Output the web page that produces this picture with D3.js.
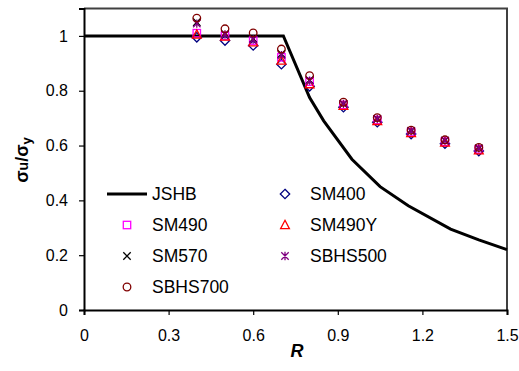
<!DOCTYPE html>
<html>
<head>
<meta charset="utf-8">
<script src="https://cdn.jsdelivr.net/npm/d3@7"></script>
<style>
  body { margin: 0; background: #fff; }
  text { font-family: Arial, "Liberation Sans", sans-serif; }
</style>
</head>
<body>
<div id="chart"></div>
<script>
// JSHB design curve
const curveR = [0, 0.707, 0.8, 0.85, 0.95, 1.05, 1.15, 1.3, 1.4, 1.5]
const curveVal = [1, 1, 0.775, 0.69, 0.55, 0.45, 0.38, 0.295, 0.256, 0.22]

// test points
const testR = [0.4, 0.5, 0.6, 0.7, 0.8, 0.92, 1.04, 1.16, 1.28, 1.4]
const sm400 = [0.995, 0.983, 0.965, 0.897, 0.816, 0.74, 0.685, 0.642, 0.607, 0.58]
const sm490 = [1.01, 1.0, 0.983, 0.922, 0.833, 0.748, 0.693, 0.649, 0.614, 0.586]
const sm490y = [1.005, 0.998, 0.977, 0.91, 0.824, 0.745, 0.69, 0.646, 0.611, 0.583]
const sm570 = [1.05, 1.007, 0.99, 0.934, 0.839, 0.752, 0.697, 0.653, 0.618, 0.59]
const sbhs500 = [1.045, 1.005, 0.987, 0.93, 0.837, 0.752, 0.697, 0.653, 0.618, 0.59]
const sbhs700 = [1.065, 1.026, 1.011, 0.952, 0.855, 0.758, 0.702, 0.656, 0.621, 0.593]

const xTicks = [0, 0.3, 0.6, 0.9, 1.2, 1.5]
const yTicks = [0, 0.2, 0.4, 0.6, 0.8, 1]

const series = [
  {name: "SM400", vals: sm400, shape: "diamond", color: "#000080"},
  {name: "SM490", vals: sm490, shape: "square", color: "#ff00ff"},
  {name: "SM490Y", vals: sm490y, shape: "triangle", color: "#ff0000"},
  {name: "SM570", vals: sm570, shape: "x", color: "#000000"},
  {name: "SBHS500", vals: sbhs500, shape: "star", color: "#800080"},
  {name: "SBHS700", vals: sbhs700, shape: "circle", color: "#800000"}
]

const width = 519, height = 371
const plotL = 84, plotR = 507, plotT = 8.5, plotB = 310

const svg = d3.select("#chart").append("svg")
  .attr("width", width)
  .attr("height", height)

svg.append("rect").attr("width", width).attr("height", height).attr("fill", "#fff")

const x = d3.scaleLinear().domain([0, 1.5]).range([plotL, plotR])
const y = d3.scaleLinear().domain([0, 1.1]).range([plotB, plotT])

// plot border (top / right)
svg.append("path")
  .attr("d", `M${plotL},${plotT}H${plotR}V${plotB}`)
  .attr("fill", "none")
  .attr("stroke", "#404040")
  .attr("stroke-width", 2)

const xAxis = d3.axisBottom(x).tickValues(xTicks).tickSize(5).tickPadding(15)
  .tickFormat(d => d3.format("")(d))
const yAxis = d3.axisLeft(y).tickValues(yTicks).tickSize(5).tickPadding(11)
  .tickFormat(d => d3.format("")(d))

const gx = svg.append("g").attr("transform", `translate(0,${plotB})`).call(xAxis)
const gy = svg.append("g").attr("transform", `translate(${plotL},0)`).call(yAxis)

;[gx, gy].forEach(g => {
  g.select(".domain").attr("stroke", "#000").attr("stroke-width", 2)
  g.selectAll(".tick line").attr("stroke", "#000").attr("stroke-width", 1.2)
  g.selectAll(".tick text").attr("font-size", 16).attr("fill", "#000")
    .attr("font-family", "Arial, 'Liberation Sans', sans-serif")
})

// JSHB line
const line = d3.line().x((d, i) => x(curveR[i])).y(d => y(d))
svg.append("path")
  .datum(curveVal)
  .attr("d", line)
  .attr("fill", "none")
  .attr("stroke", "#000")
  .attr("stroke-width", 3)

function drawMarker(g, shape, color, cx, cy) {
  const s = 3.7
  if (shape === "square") {
    g.append("rect").attr("x", cx - s).attr("y", cy - s).attr("width", 2 * s).attr("height", 2 * s)
      .attr("fill", "none").attr("stroke", color).attr("stroke-width", 1.3)
  } else if (shape === "diamond") {
    g.append("path").attr("d", `M${cx},${cy - 4.7}L${cx + 4.7},${cy}L${cx},${cy + 4.7}L${cx - 4.7},${cy}Z`)
      .attr("fill", "none").attr("stroke", color).attr("stroke-width", 1.3)
  } else if (shape === "triangle") {
    g.append("path").attr("d", `M${cx},${cy - 4.7}L${cx + 4.4},${cy + 3.6}L${cx - 4.4},${cy + 3.6}Z`)
      .attr("fill", "none").attr("stroke", color).attr("stroke-width", 1.3)
  } else if (shape === "x") {
    g.append("path").attr("d", `M${cx - s},${cy - s}L${cx + s},${cy + s}M${cx - s},${cy + s}L${cx + s},${cy - s}`)
      .attr("stroke", color).attr("stroke-width", 1.3)
  } else if (shape === "star") {
    g.append("path").attr("d", `M${cx - s},${cy - s}L${cx + s},${cy + s}M${cx - s},${cy + s}L${cx + s},${cy - s}M${cx},${cy - s - 0.5}V${cy + s + 0.5}`)
      .attr("stroke", color).attr("stroke-width", 1.3)
  } else if (shape === "circle") {
    g.append("circle").attr("cx", cx).attr("cy", cy).attr("r", 3.8)
      .attr("fill", "none").attr("stroke", color).attr("stroke-width", 1.3)
  }
}

const pts = svg.append("g")
series.forEach(s => {
  s.vals.forEach((v, i) => drawMarker(pts, s.shape, s.color, x(testR[i]), y(v)))
})

// legend
const legend = svg.append("g")
const legendItems = [
  {name: "JSHB", shape: "line", col: 0, row: 0},
  {name: "SM400", col: 1, row: 0},
  {name: "SM490", col: 0, row: 1},
  {name: "SM490Y", col: 1, row: 1},
  {name: "SM570", col: 0, row: 2},
  {name: "SBHS500", col: 1, row: 2},
  {name: "SBHS700", col: 0, row: 3}
]
const colX = [127, 285], rowY = [194, 225, 256, 287]
legendItems.forEach(item => {
  const cx = colX[item.col], cy = rowY[item.row]
  if (item.shape === "line") {
    legend.append("line").attr("x1", 107).attr("x2", 147).attr("y1", cy).attr("y2", cy)
      .attr("stroke", "#000").attr("stroke-width", 3)
  } else {
    const s = series.find(d => d.name === item.name)
    drawMarker(legend, s.shape, s.color, cx, cy)
  }
  legend.append("text")
    .attr("x", cx + 25)
    .attr("y", cy + 6)
    .attr("font-size", 17.5)
    .attr("fill", "#000")
    .text(item.name)
})

// axis titles
svg.append("text")
  .attr("x", 297)
  .attr("y", 357)
  .attr("text-anchor", "middle")
  .attr("font-size", 18)
  .attr("font-weight", "bold")
  .attr("font-style", "italic")
  .text("R")

const yTitle = svg.append("text")
  .attr("transform", "translate(28,160) rotate(-90)")
  .attr("text-anchor", "middle")
  .attr("font-size", 18)
  .attr("font-weight", "bold")
yTitle.append("tspan").text("σ")
yTitle.append("tspan").attr("font-size", 14).text("u")
yTitle.append("tspan").text("/σ")
yTitle.append("tspan").attr("font-size", 13).attr("dy", 3).text("y")
</script>
</body>
</html>
